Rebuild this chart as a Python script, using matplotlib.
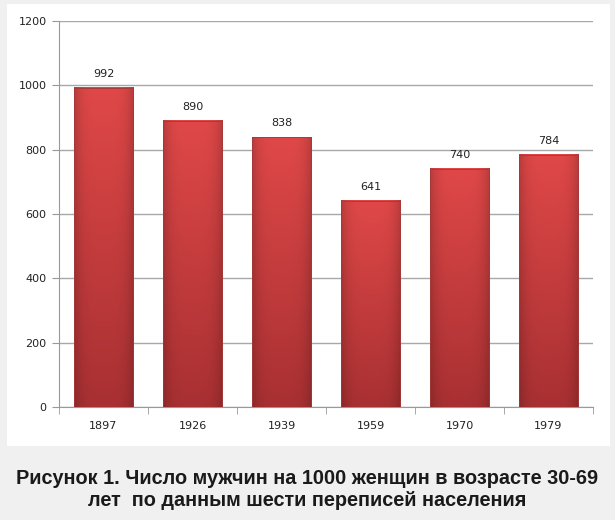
import numpy as np
import matplotlib
matplotlib.use("Agg")
import matplotlib.pyplot as plt
from matplotlib.patches import Rectangle

years = ["1897", "1926", "1939", "1959", "1970", "1979"]
men_per_1000 = [992, 890, 838, 641, 740, 784]
y_ticks = [0, 200, 400, 600, 800, 1000, 1200]
caption = ("Рисунок 1. Число мужчин на 1000 женщин в возрасте 30-69\n"
           "лет  по данным шести переписей населения")

fig = plt.figure(figsize=(6.15, 5.2), dpi=100)
fig.patch.set_facecolor("#f0f0f0")

# white chart panel
fig.patches.append(Rectangle((7 / 615, 1 - 446 / 520), 603 / 615, 442 / 520,
                             transform=fig.transFigure, facecolor="white",
                             edgecolor="none", zorder=-1))

ax = fig.add_axes([59 / 615, 1 - 407 / 520, 534 / 615, 386 / 520])
ax.set_zorder(1)
ax.set_facecolor("none")

x = np.arange(len(years))
width = 0.67

# gradient image for bars: darker toward edges and bottom
h, w = 200, 60
t = np.linspace(0, 1, h)[:, None]          # 0 bottom -> 1 top
s = np.linspace(-1, 1, w)[None, :]
top = np.array([224, 72, 72]) / 255
bot = np.array([168, 48, 50]) / 255
base = bot + (top - bot) * t[..., None]
shade = 1 - 0.18 * np.abs(s) ** 4
img = base * shade[..., None]
img = np.clip(img, 0, 1)

for xi, v in zip(x, men_per_1000):
    ax.imshow(img, extent=[xi - width / 2, xi + width / 2, 0, v],
              origin="lower", aspect="auto", zorder=3, interpolation="bilinear")
    ax.add_patch(Rectangle((xi - width / 2, 0), width, v, fill=False,
                           edgecolor="#a33a3a", linewidth=0.6, zorder=4))
    ax.text(xi, v + 28, str(v), ha="center", va="bottom", fontsize=8,
            color="#222222", zorder=5)

ax.set_xlim(-0.5, len(years) - 0.5)
ax.set_ylim(0, 1200)
ax.set_yticks(y_ticks)
ax.set_yticklabels([str(v) for v in y_ticks], fontsize=8, color="#222222")
ax.set_xticks(x)
ax.set_xticklabels(years, fontsize=8, color="#222222")
ax.set_xticks(np.arange(len(years) + 1) - 0.5, minor=True)
ax.tick_params(axis="x", which="major", length=0, pad=10)
ax.tick_params(axis="x", which="minor", length=5, color="#999999", direction="out")
ax.tick_params(axis="y", length=5, color="#999999", direction="out", pad=4)

ax.grid(axis="y", color="#a8a8a8", linewidth=1)
ax.set_axisbelow(True)
for side in ["top", "right"]:
    ax.spines[side].set_visible(False)
ax.spines["left"].set_color("#999999")
ax.spines["bottom"].set_color("#999999")

fig.text(0.5, 1 - 489 / 520, caption, ha="center", va="center",
         fontsize=14.3, fontweight="bold", color="#1a1a1a",
         family=["Liberation Sans Narrow", "Liberation Sans", "DejaVu Sans"],
         linespacing=1.2)

fig.savefig("out.png", dpi=100, facecolor=fig.get_facecolor())
